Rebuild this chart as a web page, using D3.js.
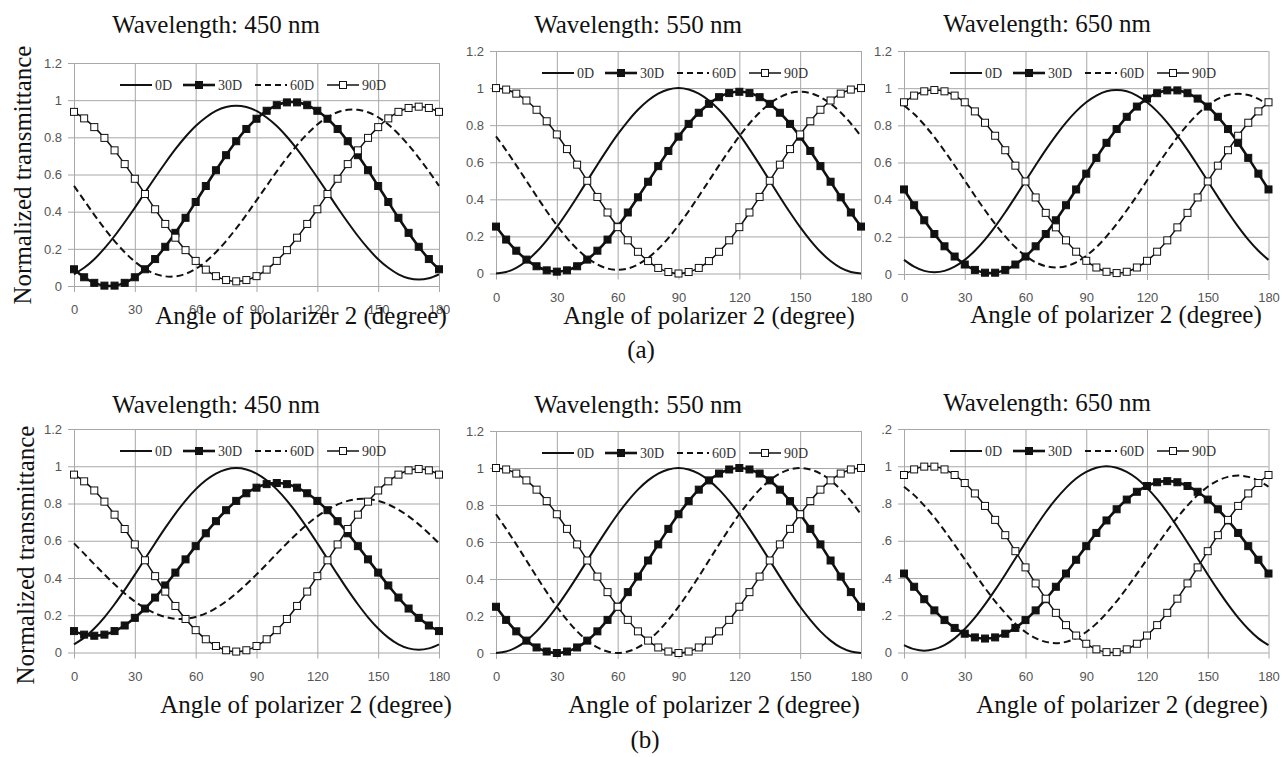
<!DOCTYPE html>
<html>
<head>
<meta charset="utf-8">
<script src="https://cdnjs.cloudflare.com/ajax/libs/d3/7.8.5/d3.min.js"></script>
<style>
body { margin: 0; background: #fff; }
svg { display: block; }
.tick text { font-family: "Liberation Sans", Arial, sans-serif; font-size: 13px; fill: #555; }
.serif { font-family: "Liberation Serif", "Times New Roman", serif; fill: #111; }
</style>
</head>
<body>
<script>
// Angle of polarizer 2 (degree), one point every 5 degrees
var angles = [0,5,10,15,20,25,30,35,40,45,50,55,60,65,70,75,80,85,90,95,100,105,110,115,120,125,130,135,140,145,150,155,160,165,170,175,180];
var xTicks = [0,30,60,90,120,150,180];
var yTicks = [0,0.2,0.4,0.6,0.8,1,1.2];
var yTickLabels = ['0','0.2','0.4','0.6','0.8','1','1.2'];
var seriesNames = ['0D','30D','60D','90D'];

// (a) 450 nm
var a450_0D  = [0.063,0.098,0.144,0.202,0.269,0.343,0.421,0.503,0.584,0.662,0.736,0.803,0.861,0.907,0.942,0.963,0.970,0.963,0.942,0.907,0.861,0.803,0.736,0.662,0.584,0.503,0.421,0.343,0.269,0.202,0.144,0.098,0.063,0.042,0.035,0.042,0.063];
var a450_30D = [0.090,0.047,0.017,0.002,0.002,0.017,0.047,0.090,0.145,0.211,0.286,0.367,0.452,0.538,0.623,0.704,0.779,0.845,0.900,0.943,0.973,0.988,0.988,0.973,0.943,0.900,0.845,0.779,0.704,0.623,0.538,0.452,0.367,0.286,0.211,0.145,0.090];
var a450_60D = [0.539,0.461,0.383,0.310,0.242,0.182,0.131,0.092,0.065,0.052,0.052,0.065,0.092,0.131,0.182,0.242,0.310,0.383,0.461,0.539,0.617,0.690,0.758,0.818,0.869,0.908,0.935,0.948,0.948,0.935,0.908,0.869,0.818,0.758,0.690,0.617,0.539];
var a450_90D = [0.937,0.902,0.855,0.797,0.730,0.656,0.577,0.495,0.413,0.334,0.260,0.193,0.135,0.088,0.053,0.032,0.025,0.032,0.053,0.088,0.135,0.193,0.260,0.334,0.413,0.495,0.577,0.656,0.730,0.797,0.855,0.902,0.937,0.958,0.965,0.958,0.937];

// (a) 550 nm
var a550_0D  = [0,0.008,0.030,0.067,0.117,0.179,0.250,0.329,0.413,0.500,0.587,0.671,0.750,0.821,0.883,0.933,0.970,0.992,1.000,0.992,0.970,0.933,0.883,0.821,0.750,0.671,0.587,0.500,0.413,0.329,0.250,0.179,0.117,0.067,0.030,0.008,0];
var a550_30D = [0.253,0.183,0.123,0.075,0.039,0.017,0.010,0.017,0.039,0.075,0.123,0.183,0.253,0.329,0.411,0.495,0.579,0.661,0.738,0.807,0.867,0.915,0.951,0.973,0.980,0.973,0.951,0.915,0.867,0.807,0.738,0.661,0.579,0.495,0.411,0.329,0.253];
var a550_60D = [0.740,0.664,0.583,0.500,0.417,0.336,0.260,0.191,0.132,0.084,0.049,0.027,0.020,0.027,0.049,0.084,0.132,0.191,0.260,0.336,0.417,0.500,0.583,0.664,0.740,0.809,0.868,0.916,0.951,0.973,0.980,0.973,0.951,0.916,0.868,0.809,0.740];
var a550_90D = [1.000,0.992,0.970,0.933,0.883,0.821,0.750,0.671,0.587,0.500,0.413,0.329,0.250,0.179,0.117,0.067,0.030,0.008,0,0.008,0.030,0.067,0.117,0.179,0.250,0.329,0.413,0.500,0.587,0.671,0.750,0.821,0.883,0.933,0.970,0.992,1.000];

// (a) 650 nm
var a650_0D  = [0.076,0.040,0.017,0.010,0.017,0.040,0.076,0.125,0.185,0.255,0.332,0.415,0.500,0.585,0.668,0.745,0.815,0.875,0.924,0.960,0.983,0.990,0.983,0.960,0.924,0.875,0.815,0.745,0.668,0.585,0.500,0.415,0.332,0.255,0.185,0.125,0.076];
var a650_30D = [0.455,0.370,0.289,0.215,0.149,0.094,0.051,0.022,0.007,0.007,0.022,0.051,0.094,0.149,0.215,0.289,0.370,0.455,0.540,0.625,0.706,0.780,0.846,0.901,0.944,0.973,0.988,0.988,0.973,0.944,0.901,0.846,0.780,0.706,0.625,0.540,0.455];
var a650_60D = [0.907,0.861,0.803,0.736,0.662,0.584,0.503,0.421,0.343,0.269,0.202,0.144,0.098,0.063,0.042,0.035,0.042,0.063,0.098,0.144,0.202,0.269,0.343,0.421,0.503,0.584,0.662,0.736,0.803,0.861,0.907,0.942,0.963,0.970,0.963,0.942,0.907];
var a650_90D = [0.924,0.960,0.983,0.990,0.983,0.960,0.924,0.875,0.814,0.744,0.666,0.583,0.498,0.412,0.329,0.251,0.181,0.120,0.071,0.035,0.012,0.005,0.012,0.035,0.071,0.120,0.181,0.251,0.329,0.412,0.498,0.583,0.666,0.744,0.814,0.875,0.924];

// (b) 450 nm
var b450_0D  = [0.044,0.080,0.129,0.189,0.259,0.336,0.418,0.503,0.587,0.669,0.746,0.816,0.876,0.925,0.961,0.983,0.990,0.983,0.961,0.925,0.876,0.816,0.746,0.669,0.587,0.503,0.418,0.336,0.259,0.189,0.129,0.080,0.044,0.022,0.015,0.022,0.044];
var b450_30D = [0.115,0.096,0.090,0.096,0.115,0.145,0.186,0.236,0.295,0.360,0.429,0.500,0.571,0.640,0.705,0.764,0.814,0.855,0.885,0.904,0.910,0.904,0.885,0.855,0.814,0.764,0.705,0.640,0.571,0.500,0.429,0.360,0.295,0.236,0.186,0.145,0.115];
var b450_60D = [0.586,0.531,0.474,0.419,0.366,0.317,0.274,0.238,0.210,0.191,0.181,0.181,0.191,0.210,0.238,0.274,0.317,0.366,0.419,0.474,0.531,0.586,0.639,0.688,0.731,0.767,0.795,0.814,0.824,0.824,0.814,0.795,0.767,0.731,0.688,0.639,0.586];
var b450_90D = [0.955,0.919,0.870,0.810,0.740,0.663,0.580,0.495,0.410,0.327,0.250,0.180,0.120,0.071,0.035,0.012,0.005,0.012,0.035,0.071,0.120,0.180,0.250,0.327,0.410,0.495,0.580,0.663,0.740,0.810,0.870,0.919,0.955,0.978,0.985,0.978,0.955];

// (b) 550 nm
var b550_0D  = [0,0.008,0.030,0.067,0.117,0.179,0.250,0.329,0.413,0.500,0.587,0.671,0.750,0.821,0.883,0.933,0.970,0.992,1.000,0.992,0.970,0.933,0.883,0.821,0.750,0.671,0.587,0.500,0.413,0.329,0.250,0.179,0.117,0.067,0.030,0.008,0];
var b550_30D = [0.250,0.179,0.117,0.067,0.030,0.008,0,0.008,0.030,0.067,0.117,0.179,0.250,0.329,0.413,0.500,0.587,0.671,0.750,0.821,0.883,0.933,0.970,0.992,1.000,0.992,0.970,0.933,0.883,0.821,0.750,0.671,0.587,0.500,0.413,0.329,0.250];
var b550_60D = [0.750,0.671,0.587,0.500,0.413,0.329,0.250,0.179,0.117,0.067,0.030,0.008,0,0.008,0.030,0.067,0.117,0.179,0.250,0.329,0.413,0.500,0.587,0.671,0.750,0.821,0.883,0.933,0.970,0.992,1.000,0.992,0.970,0.933,0.883,0.821,0.750];
var b550_90D = [1.000,0.992,0.970,0.933,0.883,0.821,0.750,0.671,0.587,0.500,0.413,0.329,0.250,0.179,0.117,0.067,0.030,0.008,0,0.008,0.030,0.067,0.117,0.179,0.250,0.329,0.413,0.500,0.587,0.671,0.750,0.821,0.883,0.933,0.970,0.992,1.000];

// (b) 650 nm
var b650_0D  = [0.040,0.018,0.010,0.018,0.040,0.076,0.126,0.187,0.258,0.336,0.419,0.505,0.591,0.674,0.753,0.823,0.884,0.934,0.970,0.992,1.000,0.992,0.970,0.934,0.884,0.823,0.753,0.674,0.591,0.505,0.419,0.336,0.258,0.187,0.126,0.076,0.040];
var b650_30D = [0.424,0.353,0.286,0.226,0.174,0.132,0.101,0.081,0.075,0.081,0.101,0.132,0.174,0.226,0.286,0.353,0.424,0.498,0.571,0.642,0.709,0.769,0.821,0.863,0.894,0.914,0.920,0.914,0.894,0.863,0.821,0.769,0.709,0.642,0.571,0.498,0.424];
var b650_60D = [0.890,0.845,0.789,0.725,0.654,0.578,0.500,0.422,0.346,0.275,0.211,0.155,0.110,0.077,0.057,0.050,0.057,0.077,0.110,0.155,0.211,0.275,0.346,0.422,0.500,0.578,0.654,0.725,0.789,0.845,0.890,0.923,0.943,0.950,0.943,0.923,0.890];
var b650_90D = [0.953,0.983,0.998,0.998,0.983,0.953,0.910,0.854,0.787,0.712,0.630,0.544,0.457,0.371,0.289,0.213,0.147,0.091,0.047,0.017,0.002,0.002,0.017,0.047,0.091,0.147,0.213,0.289,0.371,0.457,0.544,0.630,0.712,0.787,0.854,0.910,0.953];

// Panel layout (plot boxes in page pixels)
var panels = [
    {title: 'Wavelength: 450 nm', data: [a450_0D, a450_30D, a450_60D, a450_90D], left: 74,  top: 63,  width: 365,   height: 223,   titleX: 216,  titleY: 33,  labelX: 301,  labelY: 324},
    {title: 'Wavelength: 550 nm', data: [a550_0D, a550_30D, a550_60D, a550_90D], left: 496, top: 51,  width: 365,   height: 222.5, titleX: 638,  titleY: 33,  labelX: 709,  labelY: 324},
    {title: 'Wavelength: 650 nm', data: [a650_0D, a650_30D, a650_60D, a650_90D], left: 904, top: 51,  width: 364.5, height: 223,   titleX: 1047, titleY: 32,  labelX: 1116, labelY: 323},
    {title: 'Wavelength: 450 nm', data: [b450_0D, b450_30D, b450_60D, b450_90D], left: 74,  top: 429, width: 365,   height: 223.5, titleX: 216,  titleY: 413, labelX: 306,  labelY: 713},
    {title: 'Wavelength: 550 nm', data: [b550_0D, b550_30D, b550_60D, b550_90D], left: 496, top: 431, width: 365,   height: 222,   titleX: 638,  titleY: 413, labelX: 714,  labelY: 713},
    {title: 'Wavelength: 650 nm', data: [b650_0D, b650_30D, b650_60D, b650_90D], left: 904, top: 429, width: 364.5, height: 223.5, titleX: 1047, titleY: 411, labelX: 1122, labelY: 713, clipX: 881}
];

// Line style per series: 0D solid, 30D filled squares, 60D dashed, 90D open squares
var styles = [
    {width: 2,   dash: null,  marker: null},
    {width: 2.6, dash: null,  marker: 'filled'},
    {width: 2,   dash: '7,4', marker: null},
    {width: 1.5, dash: null,  marker: 'open'}
];
var legendOffsets = [46, 109, 181, 253];
var ms = 7;

var svg = d3.select('body').append('svg')
            .attr('width', 1282)
            .attr('height', 757);

svg.append('rect').attr('width', 1282).attr('height', 757).attr('fill', '#fff');

function drawMarker(sel, kind, cx, cy) {
    sel.append('rect')
       .attr('x', cx - ms / 2)
       .attr('y', cy - ms / 2)
       .attr('width', ms)
       .attr('height', ms)
       .attr('fill', kind == 'filled' ? '#111' : '#fff')
       .attr('stroke', '#111')
       .attr('stroke-width', 1);
}

panels.forEach(function(p, pi) {
    var xScale = d3.scaleLinear().domain([0, 180]).range([p.left, p.left + p.width]),
        yScale = d3.scaleLinear().domain([0, 1.2]).range([p.top + p.height, p.top]);
    var g = svg.append('g');

    // X grid + labels
    g.append('g')
     .attr('transform', 'translate(0,' + (p.top + p.height + 6) + ')')
     .call(d3.axisBottom(xScale).tickValues(xTicks).tickSize(-(p.height + 6)).tickPadding(13))
     .call(function(a) {
         a.select('.domain').remove();
         a.selectAll('.tick line').attr('stroke', '#a8a8a8');
     });

    // Y grid + labels (the last panel's labels are cut on the left, as in the source figure)
    var yWrap = g.append('g');
    if (p.clipX) {
        svg.append('clipPath').attr('id', 'clip' + pi)
           .append('rect').attr('x', p.clipX).attr('y', 0).attr('width', 1282 - p.clipX).attr('height', 757);
        yWrap.attr('clip-path', 'url(#clip' + pi + ')');
    }
    yWrap.append('g')
     .attr('transform', 'translate(' + (p.left - 6) + ',0)')
     .call(d3.axisLeft(yScale).tickValues(yTicks).tickSize(-(p.width + 6)).tickPadding(6)
             .tickFormat(function(d, i) { return yTickLabels[i]; }))
     .call(function(a) {
         a.select('.domain').remove();
         a.selectAll('.tick line').attr('stroke', '#a8a8a8');
     });

    var drawLine = d3.line()
        .x(function(d, i) { return xScale(angles[i]); })
        .y(function(d) { return yScale(d); })
        .curve(d3.curveCatmullRom);

    // Series
    p.data.forEach(function(vals, si) {
        var st = styles[si];
        g.append('path')
         .attr('d', drawLine(vals))
         .attr('fill', 'none')
         .attr('stroke', '#111')
         .attr('stroke-width', st.width)
         .attr('stroke-dasharray', st.dash);
        if (st.marker) {
            var mg = g.append('g');
            vals.forEach(function(v, i) {
                drawMarker(mg, st.marker, xScale(angles[i]), yScale(v));
            });
        }
    });

    // Legend
    var ly = p.top + 22;
    seriesNames.forEach(function(name, si) {
        var st = styles[si],
            lx = p.left + legendOffsets[si];
        g.append('line')
         .attr('x1', lx).attr('x2', lx + 32)
         .attr('y1', ly).attr('y2', ly)
         .attr('stroke', '#111')
         .attr('stroke-width', st.width)
         .attr('stroke-dasharray', st.dash ? '6,4' : null);
        if (st.marker) drawMarker(g, st.marker, lx + 16, ly);
        g.append('text')
         .attr('class', 'serif')
         .attr('x', lx + 35)
         .attr('y', ly)
         .attr('dy', '0.35em')
         .style('font-size', '14px')
         .style('fill', '#333')
         .text(name);
    });

    // Titles
    g.append('text')
     .attr('class', 'serif')
     .attr('text-anchor', 'middle')
     .attr('x', p.titleX).attr('y', p.titleY)
     .style('font-size', '25px')
     .text(p.title);

    g.append('text')
     .attr('class', 'serif')
     .attr('text-anchor', 'middle')
     .attr('x', p.labelX).attr('y', p.labelY)
     .style('font-size', '25px')
     .text('Angle of polarizer 2 (degree)');
});

// Y axis titles
[[31, 175], [34, 555]].forEach(function(pos) {
    svg.append('text')
       .attr('class', 'serif')
       .attr('text-anchor', 'middle')
       .attr('transform', 'translate(' + pos[0] + ',' + pos[1] + ') rotate(-90)')
       .style('font-size', '25px')
       .text('Normalized transmittance');
});

// Sub-figure labels
svg.append('text').attr('class', 'serif').attr('text-anchor', 'middle')
   .attr('x', 641).attr('y', 358).style('font-size', '25px').text('(a)');
svg.append('text').attr('class', 'serif').attr('text-anchor', 'middle')
   .attr('x', 645).attr('y', 748).style('font-size', '25px').text('(b)');
</script>
</body>
</html>
